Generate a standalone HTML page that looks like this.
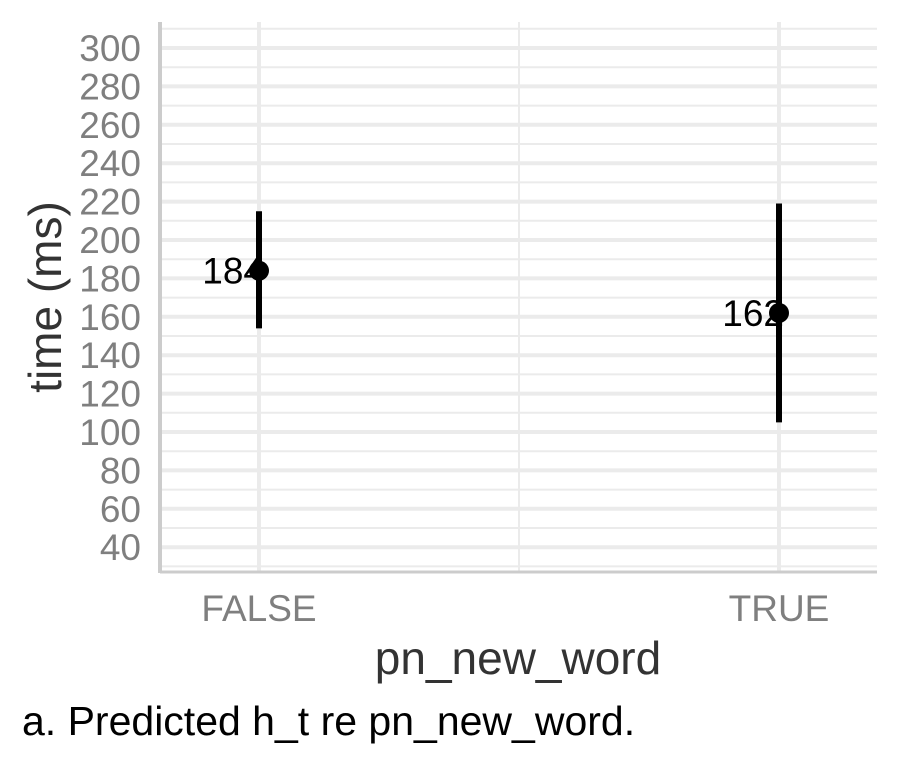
<!DOCTYPE html>
<html><head><meta charset="utf-8">
<style>
html,body{margin:0;padding:0;background:#fff;}
body{width:900px;height:767px;overflow:hidden;font-family:"Liberation Sans",Arial,sans-serif;}
</style></head>
<body>
<svg id="chart" width="900" height="767" xmlns="http://www.w3.org/2000/svg"></svg>
<script>
const categories = ["FALSE","TRUE"];
const estimates = [184,162];
const lower = [154,105];
const upper = [215,219];
const yTicks = [40,60,80,100,120,140,160,180,200,220,240,260,280,300];

const svg = document.getElementById('chart');
const NS = "http://www.w3.org/2000/svg";
const L=160, R=877, T=22, B=572;
function y(v){ return 240 - (v-200)*1.92; }
function x(i){ return 259 + i*520; }
function mk(tag, attrs, parent){ const e=document.createElementNS(NS,tag); for(const k in attrs) e.setAttribute(k,attrs[k]); (parent||svg).appendChild(e); return e; }

const grid = mk('g',{});


for(let v=30; v<=310; v+=20){
  const l=mk('line',{x1:L,x2:R,y1:y(v),y2:y(v),stroke:'#ebebeb','stroke-width':2},grid);
  
  
}
yTicks.forEach(v=>{
  const l=mk('line',{x1:L,x2:R,y1:y(v),y2:y(v),stroke:'#ebebeb','stroke-width':4},grid);
  
  
  const t=mk('text',{x:141,y:y(v)+13,'text-anchor':'end','font-size':37,fill:'#7f7f7f'});
  t.textContent=v;
  
  
});
const mid=mk('line',{x1:(x(0)+x(1))/2,x2:(x(0)+x(1))/2,y1:T,y2:B,stroke:'#ebebeb','stroke-width':2},grid);


categories.forEach((c,i)=>{
  const l=mk('line',{x1:x(i),x2:x(i),y1:T,y2:B,stroke:'#ebebeb','stroke-width':4},grid);
  
  
  const t=mk('text',{x:x(i),y:621,'text-anchor':'middle','font-size':37,fill:'#7f7f7f'});
  t.textContent=c;
  
  
});
const ya=mk('line',{x1:L,x2:L,y1:T,y2:B+1,stroke:'#cccccc','stroke-width':4});


const xa=mk('line',{x1:L,x2:R,y1:B,y2:B,stroke:'#cccccc','stroke-width':3});



categories.forEach((c,i)=>{
  const eb=mk('line',{x1:x(i),x2:x(i),y1:y(upper[i]),y2:y(lower[i]),stroke:'#000','stroke-width':6});
  
  
  const pt=mk('circle',{cx:x(i),cy:y(estimates[i]),r:10,fill:'#000'});
  
  
  const lb=mk('text',{x:x(i)+5,y:y(estimates[i])+13,'text-anchor':'end','font-size':37,fill:'#000'});
  lb.textContent=estimates[i];
  
  
});

const yt=mk('text',{x:0,y:0,'text-anchor':'middle','font-size':46,fill:'#333',transform:'translate(61,297) rotate(-90)'});
yt.textContent='time (ms)';


const xt=mk('text',{x:518,y:674,'text-anchor':'middle','font-size':46,fill:'#333'});
xt.textContent='pn_new_word';


const cap=mk('text',{x:22,y:735,'font-size':41,fill:'#000'});
cap.textContent='a. Predicted h_t re pn_new_word.';


</script>
</body></html>
